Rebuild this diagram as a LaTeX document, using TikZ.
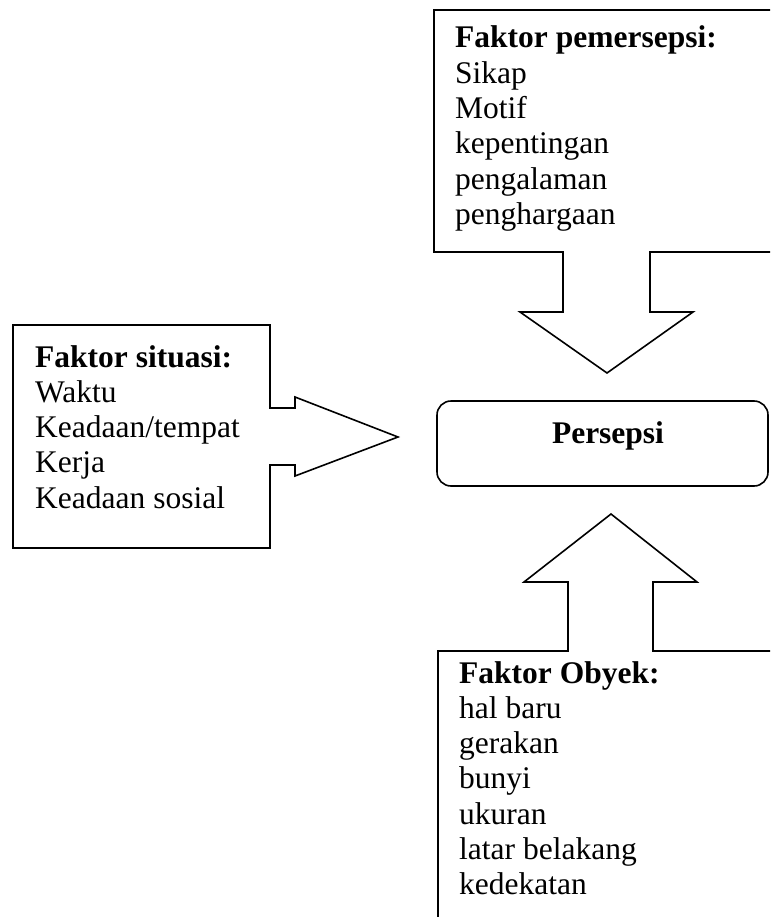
\documentclass[tikz,border=0pt]{standalone}
\usepackage{fontspec}
\setmainfont{Liberation Serif}
\begin{document}
\begin{tikzpicture}[x=1pt,y=-1pt,
  shapeline/.style={draw=black,line width=1.6pt,line join=miter},
  txt/.style={inner sep=0pt,anchor=base west,font=\fontsize{31.5}{35.3}\selectfont},
  ttl/.style={inner sep=0pt,anchor=base,font=\fontsize{31.5}{35.3}\selectfont\bfseries}]
\useasboundingbox (0,0) rectangle (770,917);
\clip (0,0) rectangle (770,917);
% top callout (Faktor pemersepsi)
\draw[shapeline] (780,10) -- (434,10) -- (434,252) -- (563,252) -- (563,312) -- (520,312)
  -- (607,373) -- (693,312) -- (650,312) -- (650,252) -- (780,252);
% left callout (Faktor situasi)
\draw[shapeline] (13,325) -- (270,325) -- (270,408) -- (295,408) -- (295,397) -- (398,437)
  -- (295,476) -- (295,465) -- (270,465) -- (270,548) -- (13,548) -- cycle;
% bottom callout (Faktor Obyek)
\draw[shapeline] (780,651) -- (653,651) -- (653,582) -- (697,582) -- (611,514) -- (524,582)
  -- (568,582) -- (568,651) -- (438,651) -- (438,930);
% Persepsi box
\draw[shapeline,rounded corners=14pt] (437,401) rectangle (768,486);
\node[ttl] (persepsi) at (608,443) {Persepsi};
% texts
\node[txt] (pemersepsi) at (455,48) {\begin{tabular}[t]{@{}l@{}}\textbf{Faktor pemersepsi:}\\Sikap\\Motif\\kepentingan\\pengalaman\\penghargaan\end{tabular}};
\node[txt] (situasi) at (35,367) {\begin{tabular}[t]{@{}l@{}}\textbf{Faktor situasi:}\\Waktu\\Keadaan/tempat\\Kerja\\Keadaan sosial\end{tabular}};
\node[txt] (obyek) at (459,683) {\begin{tabular}[t]{@{}l@{}}\textbf{Faktor Obyek:}\\hal baru\\gerakan\\bunyi\\ukuran\\latar belakang\\kedekatan\end{tabular}};
\end{tikzpicture}
\end{document}
